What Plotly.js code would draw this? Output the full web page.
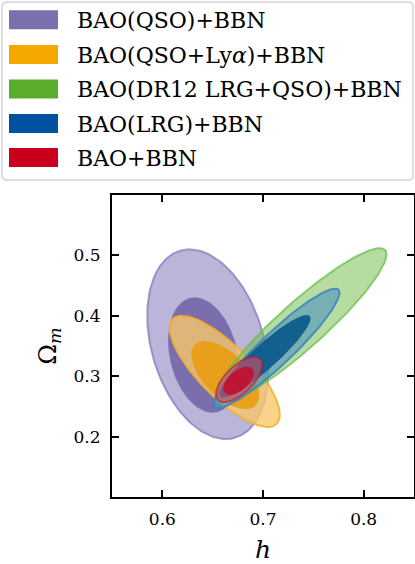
<!DOCTYPE html>
<html>
<head>
<meta charset="utf-8">
<script src="https://cdn.plot.ly/plotly-3.0.1.min.js"></script>
<style>html,body{margin:0;padding:0;background:#fff;}#chart{width:415px;height:564px;}</style>
</head>
<body>
<div id="chart"></div>
<script>
// ---- data ----
const seriesNames = ["BAO(QSO)+BBN", "BAO(QSO+Ly<i>α</i>)+BBN", "BAO(DR12 LRG+QSO)+BBN", "BAO(LRG)+BBN", "BAO+BBN"];
const legendColors = ["#7b6fae", "#f5a800", "#5aac2a", "#0051a0", "#c8001e"];

// 2-sigma (outer) contours: centre, half extent in h and Omega_m, correlation
const outerCenterH  = [0.645, 0.662, 0.7377, 0.7135, 0.6763];
const outerCenterOm = [0.353, 0.308, 0.384, 0.346, 0.2945];
const outerHalfH    = [0.060, 0.0547, 0.085, 0.0625, 0.023];
const outerHalfOm   = [0.157, 0.092, 0.128, 0.099, 0.0375];
const outerRho      = [-0.30, -0.78, 0.92, 0.93, 0.65];

// 1-sigma (inner) contours (null = not visible)
const innerCenterH  = [0.641, 0.6625, null, 0.702, 0.6757];
const innerCenterOm = [0.335, 0.302, null, 0.333, 0.2925];
const innerHalfH    = [0.035, 0.0335, null, 0.045, 0.015];
const innerHalfOm   = [0.095, 0.056, null, 0.068, 0.023];
const innerRho      = [-0.25, -0.60, null, 0.92, 0.56];

const xTicks = [0.6, 0.7, 0.8];
const yTicks = [0.2, 0.3, 0.4, 0.5];
const xRange = [0.55, 0.85];
const yRange = [0.1, 0.6];

// ---- styles ----
const outerFill = ["rgba(130,120,185,0.55)", "rgba(248,200,110,0.80)", "rgba(110,185,70,0.50)", "rgba(85,150,190,0.65)", "rgba(215,80,105,0.60)"];
const outerLine = ["rgba(120,110,180,0.65)", "rgba(245,175,40,0.85)", "rgba(110,190,80,0.75)", "rgba(60,130,190,0.85)", "rgba(200,20,50,0.6)"];
const innerFill = ["rgba(118,106,170,0.95)", "rgba(232,158,20,0.92)", null, "rgba(12,92,140,0.95)", "rgba(195,15,45,0.90)"];

function ellipse(cx, cy, sx, sy, rho) {
  const xs = [], ys = [], n = 160, s = Math.sqrt(1 - rho * rho);
  for (let i = 0; i <= n; i++) {
    const t = 2 * Math.PI * i / n;
    xs.push(cx + sx * Math.cos(t));
    ys.push(cy + sy * (rho * Math.cos(t) + s * Math.sin(t)));
  }
  return {x: xs, y: ys};
}

const traces = [];
for (let i = 0; i < seriesNames.length; i++) {
  const o = ellipse(outerCenterH[i], outerCenterOm[i], outerHalfH[i], outerHalfOm[i], outerRho[i]);
  traces.push({type: "scatter", mode: "lines", x: o.x, y: o.y, fill: "toself",
    fillcolor: outerFill[i], line: {color: outerLine[i], width: 2}, hoverinfo: "skip", showlegend: false});
  if (innerCenterH[i] !== null) {
    const e = ellipse(innerCenterH[i], innerCenterOm[i], innerHalfH[i], innerHalfOm[i], innerRho[i]);
    traces.push({type: "scatter", mode: "lines", x: e.x, y: e.y, fill: "toself",
      fillcolor: innerFill[i], line: {color: innerFill[i], width: 0.5}, hoverinfo: "skip", showlegend: false});
  }
}

// ---- layout (pixel geometry -> paper coords) ----
const M = {l: 112, r: 1, t: 195, b: 67};
const PW = 415 - M.l - M.r, PH = 564 - M.t - M.b;
const px = v => (v - M.l) / PW;
const py = v => (564 - M.b - v) / PH;

const shapes = [];
const annotations = [];
// legend frame
{
  const x0 = px(2), x1 = px(413), y0 = py(180), y1 = py(2), r = 5 / PW;
  const path = `M${x0 + r},${y0} L${x1 - r},${y0} Q${x1},${y0} ${x1},${y0 + r} L${x1},${y1 - r} Q${x1},${y1} ${x1 - r},${y1} ` +
               `L${x0 + r},${y1} Q${x0},${y1} ${x0},${y1 - r} L${x0},${y0 + r} Q${x0},${y0} ${x0 + r},${y0} Z`;
  shapes.push({type: "path", xref: "paper", yref: "paper", path: path, fillcolor: "rgba(255,255,255,0.9)",
    line: {color: "#d4d4d4", width: 1.5}, layer: "above"});
}
const rowCenters = [19.7, 54.5, 88.9, 123.5, 157.6];
for (let i = 0; i < seriesNames.length; i++) {
  shapes.push({type: "rect", xref: "paper", yref: "paper", x0: px(9), x1: px(58),
    y0: py(rowCenters[i] + 9.5), y1: py(rowCenters[i] - 9.5), fillcolor: legendColors[i], line: {width: 0}, layer: "above"});
  annotations.push({xref: "paper", yref: "paper", x: px(75), y: py(rowCenters[i] + 0.5), xanchor: "left", yanchor: "middle",
    text: seriesNames[i], showarrow: false, font: {family: "DejaVu Serif", size: 22, color: "#000"}});
}

const axisCommon = {
  showgrid: false, zeroline: false, showline: true, linecolor: "#000", linewidth: 2,
  mirror: "ticks", ticks: "inside", ticklen: 7, tickwidth: 2, tickcolor: "#000",
  tickfont: {family: "DejaVu Serif", size: 17, color: "#000"}, fixedrange: true
};

const layout = {
  width: 415, height: 564, margin: M, paper_bgcolor: "#fff", plot_bgcolor: "#fff", showlegend: false,
  xaxis: Object.assign({}, axisCommon, {range: xRange, tickmode: "array", tickvals: xTicks,
    ticktext: xTicks.map(v => v.toFixed(1)), ticklabelstandoff: 6,
    title: {text: "<i>h</i>", font: {family: "DejaVu Serif", size: 25, color: "#000"}, standoff: 16}}),
  yaxis: Object.assign({}, axisCommon, {range: yRange, tickmode: "array", tickvals: yTicks,
    ticktext: yTicks.map(v => v.toFixed(1)), ticklabelstandoff: 6,
    title: {text: "Ω<sub><i>m</i></sub>", font: {family: "DejaVu Serif", size: 25, color: "#000"}, standoff: 10}}),
  shapes: shapes, annotations: annotations
};

Plotly.newPlot("chart", traces, layout, {staticPlot: true, displayModeBar: false});
</script>
</body>
</html>
